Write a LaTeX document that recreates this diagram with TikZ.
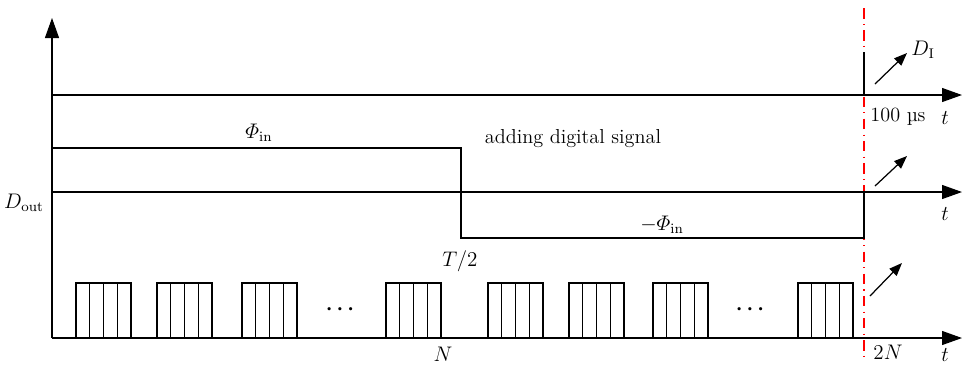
\documentclass[tikz,border=0pt]{standalone}
\usepackage{amsmath}
\usetikzlibrary{arrows.meta}

\begin{document}
\begin{tikzpicture}[
  x=0.02cm, y=-0.02cm,
  line width=0.7pt,
  font=\fontsize{11.5}{14}\selectfont,
  axis/.style={-{Triangle[length=0.4cm,width=0.28cm]}},
  shiftarrow/.style={-{Triangle[length=0.26cm,width=0.2cm]}},
  marker/.style={red, line width=0.6pt, dash pattern=on 6pt off 3pt on 0.6pt off 3pt},
  lbl/.style={inner sep=1pt}
]
  \useasboundingbox (0,0) rectangle (965,370);

  % red time marker
  \coordinate (mtop) at (864,8);
  \coordinate (mbot) at (864,362);
  \draw[marker] (mtop) -- (mbot);

  % vertical axis
  \coordinate (o) at (52,338);
  \coordinate (ytip) at (52,18);
  \draw[axis] (o) -- (ytip);

  % top trace
  \coordinate (a0) at (52,95);
  \coordinate (a1) at (962,95);
  \coordinate (spk) at (864,52);
  \draw[axis] (a0) -- (a1);
  \draw (864,95) -- (spk);

  % middle trace
  \coordinate (b0) at (52,192);
  \coordinate (b1) at (962,192);
  \draw[axis] (b0) -- (b1);
  \coordinate (s0) at (52,148);
  \coordinate (s1) at (461,148);
  \coordinate (s2) at (461,238);
  \coordinate (s3) at (864,238);
  \coordinate (s4) at (864,192);
  \draw (s0) -- (s1) -- (s2) -- (s3) -- (s4);

  % bottom trace
  \coordinate (c1) at (962,338);
  \draw[axis] (o) -- (c1);
  \foreach \x in {76,157,242,386,488,569,653,798} {
    \draw (\x,338) rectangle ++(55,-55);
    \foreach \k in {1,2,3}
      \draw (\x+13.75*\k,338) -- ++(0,-55);
  }

  % shift arrows
  \draw[shiftarrow] (875,84) -- (907,53);
  \draw[shiftarrow] (875,186) -- (907,156);
  \draw[shiftarrow] (870,296) -- (902,263);

  % labels
  \node[lbl] (dout) at (24,203) {$D_{\mathrm{out}}$};
  \node[lbl, anchor=west] (di) at (909,50) {$D_{\mathrm{I}}$};
  \node[lbl] (us) at (898,117) {100 \textmu s};
  \node[lbl] (phi) at (259,133) {$\varPhi_{\mathrm{in}}$};
  \node[lbl] (add) at (573,139) {adding digital signal};
  \node[lbl] (mphi) at (662,225) {$-\varPhi_{\mathrm{in}}$};
  \node[lbl] (half) at (460,261) {$T/2$};
  \node[lbl] (dots1) at (342,309) {$\boldsymbol{\cdots}$};
  \node[lbl] (dots2) at (752,309) {$\boldsymbol{\cdots}$};
  \node[lbl] (n) at (443,354) {$N$};
  \node[lbl] (twon) at (888,352) {$2N$};
  \node[lbl] (t1) at (945,118) {$t$};
  \node[lbl] (t2) at (945,214) {$t$};
  \node[lbl] (t3) at (945,355) {$t$};
\end{tikzpicture}
\end{document}
